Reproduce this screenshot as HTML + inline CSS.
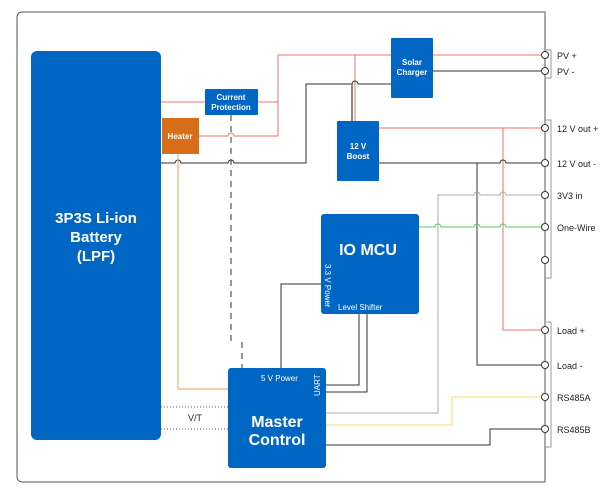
<!DOCTYPE html><html><head><style>body{margin:0;background:#fff}svg{display:block}text{font-family:"Liberation Sans",sans-serif}</style></head><body>
<svg width="609" height="500" viewBox="0 0 609 500">
<path d="M23,12 H545 V482 H23 Q17,482 17,476 V18 Q17,12 23,12 Z" fill="none" stroke="#555" stroke-width="1"/>
<g fill="none" stroke-width="1">
<g stroke="#f07070">
<path d="M161,102H205M258,102H278M278,55V136M199,136H228a3,3 0 0 1 6,0H278M278,55H391M433,55H541M355,55V121M379,128H541M503,128V330H541"/>
</g>
<g stroke="#333">
<path d="M161,163H175a3,3 0 0 1 6,0H228a3,3 0 0 1 6,0H306V84H352a3,3 0 0 1 6,0H391M433,71H541M379,163H500a3,3 0 0 1 6,0H541M477,163V365H541"/>
<path d="M321,284H281V368M359,314V385H326M367,314V392H326M326,445H490V429H541"/>
</g>
<path stroke="#888" stroke-width="2" d="M352,84V121"/>
<path stroke="#aaa" d="M326,413H438V195H474a3,3 0 0 1 6,0H500a3,3 0 0 1 6,0H541"/>
<path stroke="#5c5" d="M419,227H435a3,3 0 0 1 6,0H474a3,3 0 0 1 6,0H500a3,3 0 0 1 6,0H541"/>
<path stroke="#f0e060" d="M326,425H452V397H541"/>
<path stroke="#f0a060" d="M178,154V389H228"/>
<path stroke="#333" stroke-dasharray="6,5" d="M231,115V342M242,342V368"/>
<path stroke="#555" stroke-dasharray="1,2" d="M161,407H228M161,429H228"/>
<path stroke="#999" d="M545,50H551V78H545M545,120H551V278H545M545,322H551V447H545"/>
</g>
<g fill="#fff" stroke="#333">
<circle cx="545" cy="55" r="3.5"/><circle cx="545" cy="71" r="3.5"/><circle cx="545" cy="128" r="3.5"/><circle cx="545" cy="163" r="3.5"/><circle cx="545" cy="195" r="3.5"/><circle cx="545" cy="227" r="3.5"/><circle cx="545" cy="260" r="3.5"/><circle cx="545" cy="330" r="3.5"/><circle cx="545" cy="365" r="3.5"/><circle cx="545" cy="397" r="3.5"/><circle cx="545" cy="429" r="3.5"/>
</g>
<g font-size="9" fill="#222">
<text x="557" y="59">PV +</text><text x="557" y="75">PV -</text><text x="557" y="132">12 V out +</text><text x="557" y="167">12 V out -</text><text x="557" y="199">3V3 in</text><text x="557" y="231">One-Wire</text><text x="557" y="334">Load +</text><text x="557" y="369">Load -</text><text x="557" y="401">RS485A</text><text x="557" y="433">RS485B</text>
<text x="188" y="421">V/T</text>
</g>
<g fill="#0066c4">
<rect x="31" y="51" width="130" height="389" rx="6"/>
<rect x="205" y="89" width="53" height="26" rx="1"/>
<rect x="391" y="38" width="42" height="60" rx="1"/>
<rect x="337" y="121" width="42" height="60" rx="1"/>
<rect x="321" y="214" width="98" height="100" rx="3"/>
<rect x="228" y="368" width="98" height="100" rx="3"/>
</g>
<rect x="162" y="118" width="37" height="36" fill="#d86d1a"/>
<g fill="#fff" font-weight="bold" text-anchor="middle">
<text x="96" y="223" font-size="15">3P3S Li-ion</text><text x="96" y="242" font-size="15">Battery</text><text x="96" y="261" font-size="15">(LPF)</text>
<text x="231" y="100" font-size="8">Current</text><text x="231" y="110" font-size="8">Protection</text>
<text x="180" y="139" font-size="8">Heater</text>
<text x="412" y="65" font-size="8">Solar</text><text x="412" y="75" font-size="8">Charger</text>
<text x="358" y="149" font-size="8">12 V</text><text x="358" y="159" font-size="8">Boost</text>
<text x="368" y="255" font-size="16">IO MCU</text>
<text x="277" y="427" font-size="16">Master</text><text x="277" y="445" font-size="16">Control</text>
</g>
<g fill="#fff" font-size="8">
<text x="338" y="310">Level Shifter</text>
<text x="261" y="381">5 V Power</text>
<text transform="translate(325,264) rotate(90)">3.3 V Power</text>
<text transform="translate(320,396) rotate(-90)">UART</text>
</g>
</svg></body></html>
